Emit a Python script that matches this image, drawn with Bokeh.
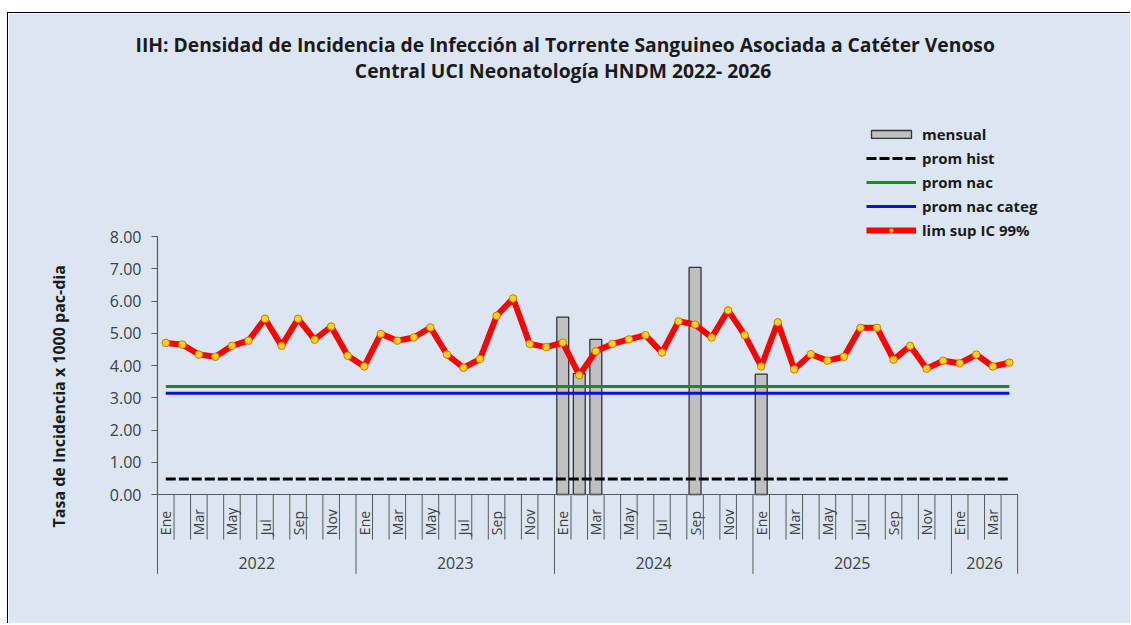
import math
from bokeh.plotting import figure
from bokeh.models import (FixedTicker, Legend, LegendItem, Title, Range1d, PrintfTickFormatter)
from bokeh.embed import file_html
from bokeh.resources import INLINE
from bokeh.core.properties import value

# ---------------- data ----------------
years = ["2022", "2023", "2024", "2025", "2026"]
months_per_year = [12, 12, 12, 12, 4]
month_names = ["Ene", "Feb", "Mar", "Abr", "May", "Jun", "Jul", "Ago", "Sep", "Oct", "Nov", "Dic"]

lim_sup = [4.70, 4.65, 4.34, 4.27, 4.61, 4.77, 5.45, 4.61, 5.45, 4.80, 5.21, 4.30,
           3.97, 4.98, 4.77, 4.87, 5.18, 4.34, 3.93, 4.20, 5.54, 6.08, 4.67, 4.57,
           4.71, 3.70, 4.44, 4.67, 4.81, 4.94, 4.40, 5.37, 5.27, 4.87, 5.71, 4.94,
           3.97, 5.34, 3.88, 4.35, 4.15, 4.27, 5.17, 5.17, 4.18, 4.61, 3.90, 4.15,
           4.07, 4.34, 3.97, 4.09]
mensual = [0, 0, 0, 0, 0, 0, 0, 0, 0, 0, 0, 0,
           0, 0, 0, 0, 0, 0, 0, 0, 0, 0, 0, 0,
           5.50, 3.75, 4.81, 0, 0, 0, 0, 0, 7.04, 0, 0, 0,
           3.73, 0, 0, 0, 0, 0, 0, 0, 0, 0, 0, 0,
           0, 0, 0, 0]
prom_hist = 0.48
prom_nac = 3.35
prom_nac_categ = 3.14
y_ticks = [0, 1, 2, 3, 4, 5, 6, 7, 8]

title_lines = ["IIH: Densidad de Incidencia de Infección al Torrente Sanguineo Asociada a Catéter Venoso",
               "Central UCI Neonatología HNDM 2022- 2026"]
y_title = "Tasa de Incidencia x 1000 pac-dia"

# ---------------- derived ----------------
n = len(lim_sup)
centers = [i + 0.5 for i in range(n)]
month_lbl = []
for ny in months_per_year:
    month_lbl += month_names[:ny]

FONT = "Open Sans"
BG = "#DCE6F2"
AX = "#595959"
TFS = "19.3px"

# geometry (px); canvas origin on page = (8, 13)
PXM = 16.5577   # px per month
PXU = 32.25     # px per unit
X0PX, Y0PX = 156, 494          # page px of data (0, 0)
FL, FR, FT, FB = 151, 1131, 62, 580   # frame edges on page
H = 611
x0 = (FL - X0PX) / PXM
x1 = (FR - X0PX) / PXM
y0 = (Y0PX - FB) / PXU
y1 = (Y0PX - FT) / PXU

p = figure(width=1123, height=H, output_backend="svg", toolbar_location=None,
           x_axis_location=None, y_axis_location="left",
           x_range=Range1d(x0, x1), y_range=Range1d(y0, y1),
           min_border_left=FL - 8, min_border_right=0, min_border_top=FT - 13,
           min_border_bottom=13 + H - FB)
p.background_fill_color = BG
p.border_fill_color = BG
p.outline_line_color = BG
p.outline_line_width = 2
p.xgrid.visible = False
p.ygrid.visible = False
p.styles = {"margin-left": "7px", "margin-top": "12px",
            "border-left": "1px solid #000", "border-top": "1px solid #000"}

# chart title, first line in the title panel
p.title.text = title_lines[0]
p.title.align = "left"
p.title.offset = 134 - FL
p.title.standoff = 10
p.title.text_font = FONT
p.title.text_font_size = TFS
p.title.text_font_style = "bold"
p.title.text_color = "#1a1a1a"

# y axis
ya = p.yaxis[0]
ya.ticker = FixedTicker(ticks=y_ticks)
ya.formatter = PrintfTickFormatter(format="%.2f")
ya.axis_line_color = None
ya.major_tick_line_color = AX
ya.major_tick_in = 5
ya.major_tick_out = 1
ya.minor_tick_line_color = None
ya.major_label_standoff = 10
ya.major_label_text_font = FONT
ya.major_label_text_font_size = "16px"
ya.major_label_text_color = "#404040"

# y axis title (positioned along the plotted 0..8 range)
p.add_layout(Title(text=y_title, align="left", offset=53, vertical_align="bottom", standoff=74,
                   text_font=FONT, text_font_size="16px", text_font_style="bold",
                   text_color="#1a1a1a"), "left")

# bars
bx = [c for c, v in zip(centers, mensual) if v > 0]
bt = [v for v in mensual if v > 0]
bars = p.vbar(x=bx, top=bt, bottom=0, width=0.72, fill_color="#C0C0C0",
              line_color="#333333", line_width=1.3)

# horizontal reference lines
r_hist = p.line(centers, [prom_hist] * n, line_color="black", line_width=3, line_dash="10 3")
r_nac = p.line(centers, [prom_nac] * n, line_color="#1E8A1E", line_width=3)
r_cat = p.line(centers, [prom_nac_categ] * n, line_color="#0A14C8", line_width=3)

# lim sup
r_lim = p.line(centers, lim_sup, line_color="#FF0000", line_width=6)
r_pts = p.scatter(centers, lim_sup, size=7.5, fill_color="#FFD21F", line_color="#D07800", line_width=1)

# manual axis lines
p.segment(x0=[0], y0=[y_ticks[0]], x1=[0], y1=[y_ticks[-1]], line_color=AX, line_width=1.2)
p.segment(x0=[0], y0=[0], x1=[n], y1=[0], line_color=AX, line_width=1.2)

# category ticks
bounds = [0]
for ny in months_per_year:
    bounds.append(bounds[-1] + ny)
tx = list(range(n + 1))
ty = [-2.46 if k in bounds else -1.40 for k in tx]
p.segment(x0=tx, y0=[0] * len(tx), x1=tx, y1=ty, line_color=AX, line_width=1)

# month labels (every other)
lx = [centers[i] for i in range(n) if i % 12 % 2 == 0]
lt = [month_lbl[i] for i in range(n) if i % 12 % 2 == 0]
p.text(x=lx, y=[-1.26] * len(lx), text=lt, angle=math.pi / 2, text_align="left",
       text_baseline="middle", text_font=value(FONT), text_font_size="14px", text_color="#404040")

# year labels
yx = [(bounds[i] + bounds[i + 1]) / 2 for i in range(len(years))]
p.text(x=yx, y=[-2.11] * len(yx), text=years, text_align="center", text_baseline="middle",
       text_font=value(FONT), text_font_size="16px", text_color="#404040")

# chart title, second line
p.text(x=[(562 - X0PX) / PXM], y=[(Y0PX - 70) / PXU], text=title_lines[1:],
       text_align="center", text_baseline="middle", text_font=value(FONT),
       text_font_size=TFS, text_font_style="bold", text_color="#1a1a1a")

# legend
legend = Legend(items=[
    LegendItem(label="mensual", renderers=[bars]),
    LegendItem(label="prom hist", renderers=[r_hist]),
    LegendItem(label="prom nac", renderers=[r_nac]),
    LegendItem(label="prom nac categ", renderers=[r_cat]),
    LegendItem(label="lim sup IC 99%", renderers=[r_lim, r_pts]),
], location=(865 - FL, FB - 240))
legend.border_line_color = None
legend.background_fill_alpha = 0
legend.padding = 0
legend.margin = 0
legend.spacing = 4
legend.glyph_width = 50
legend.glyph_height = 10
legend.label_height = 20
legend.label_standoff = 6
legend.label_text_font = FONT
legend.label_text_font_size = "15px"
legend.label_text_font_style = "bold"
legend.label_text_color = "#1a1a1a"
p.add_layout(legend)

open("out.html", "w").write(file_html(p, INLINE))
